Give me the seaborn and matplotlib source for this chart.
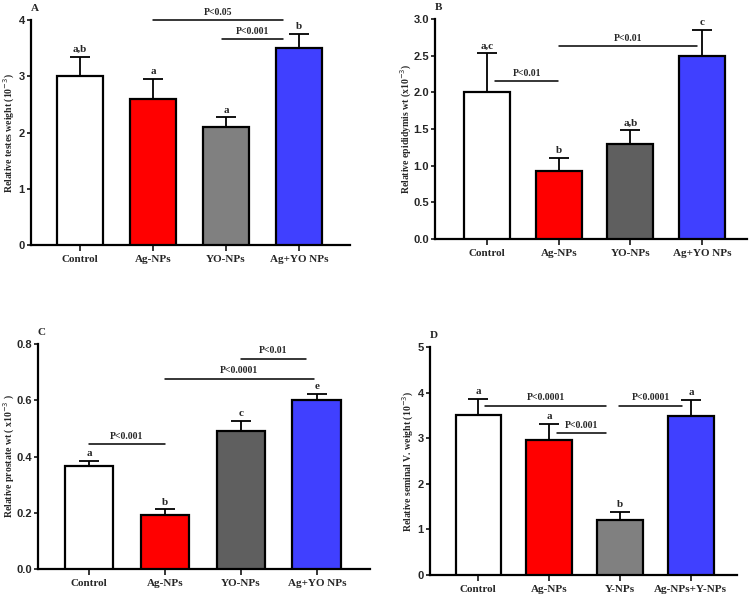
import numpy as np
import pandas as pd
import matplotlib
matplotlib.use("Agg")
import matplotlib.pyplot as plt
import seaborn as sns

# ==========================================
# Data
# ==========================================
groups_abc = ["Control", "Ag-NPs", "YO-NPs", "Ag+YO NPs"]
groups_d = ["Control", "Ag-NPs", "Y-NPs", "Ag-NPs+Y-NPs"]

testes_mean = [3.0, 2.6, 2.1, 3.5]
testes_err = [0.35, 0.35, 0.17, 0.26]
testes_letters = ["a,b", "a", "a", "b"]

epid_mean = [2.0, 0.93, 1.3, 2.5]
epid_err = [0.53, 0.18, 0.18, 0.35]
epid_letters = ["a,c", "b", "a,b", "c"]

prost_mean = [0.365, 0.192, 0.49, 0.60]
prost_err = [0.02, 0.02, 0.037, 0.022]
prost_letters = ["a", "b", "c", "e"]

semv_mean = [3.5, 2.97, 1.2, 3.48]
semv_err = [0.37, 0.35, 0.18, 0.36]
semv_letters = ["a", "a", "b", "a"]

# significance brackets: (x start, x end, y level, label)
testes_sig = [(1.0, 2.78, 4.0, "P<0.05"), (1.95, 2.78, 3.66, "P<0.001")]
epid_sig = [(0.11, 0.99, 2.15, "P<0.01"), (1.0, 2.93, 2.63, "P<0.01")]
prost_sig = [(0.0, 1.0, 0.444, "P<0.001"), (1.0, 2.96, 0.676, "P<0.0001"),
             (2.0, 2.86, 0.747, "P<0.01")]
semv_sig = [(0.1, 1.8, 3.71, "P<0.0001"), (1.11, 1.8, 3.11, "P<0.001"),
            (1.99, 2.87, 3.71, "P<0.0001")]

sns.set_style("ticks")
serif = ["Liberation Serif", "DejaVu Serif"]
sans = ["Liberation Sans", "DejaVu Sans"]

fig = plt.figure(figsize=(7.52, 5.96), dpi=100)


def panel(rect, groups, means, errs, letters, sigs, colors, ylim, yticks,
          yfmt, ylabel, tag, xlim, label_x):
    ax = fig.add_axes(rect)
    df = pd.DataFrame({"group": groups, "value": means})
    sns.barplot(data=df, x="group", y="value", hue="group", palette=colors,
                order=groups, hue_order=groups, width=0.64, edgecolor="black",
                linewidth=1.6, saturation=1, errorbar=None, legend=False,
                ax=ax, zorder=3)
    x = np.arange(len(groups))
    ax.errorbar(x, means, yerr=[np.zeros(len(errs)), errs], fmt="none",
                ecolor="black", elinewidth=1.3, capsize=7, capthick=1.3,
                zorder=2)
    for xi, m, e, lab in zip(x, means, errs, letters):
        ax.annotate(lab, (xi, m + e), xytext=(0, 2), textcoords="offset points",
                    ha="center", va="bottom", fontsize=8, fontweight="bold",
                    family=serif)
    for x0, x1, yv, lab in sigs:
        ax.plot([x0, x1], [yv, yv], color="black", lw=1.1, clip_on=False)
        ax.annotate(lab, ((x0 + x1) / 2, yv), xytext=(0, 2.5),
                    textcoords="offset points", ha="center", va="bottom",
                    fontsize=7, fontweight="bold", family=serif,
                    annotation_clip=False)
    ax.set_xlim(*xlim)
    ax.set_ylim(*ylim)
    ax.set_yticks(yticks)
    ax.set_yticklabels([yfmt.format(v) for v in yticks], fontsize=8,
                       fontweight="bold", family=sans)
    ax.set_xticks(x)
    ax.set_xticklabels(groups, fontsize=8, fontweight="bold", family=serif)
    ax.set_xlabel("")
    ax.set_ylabel(ylabel, fontsize=7, fontweight="bold", family=serif)
    ax.yaxis.set_label_coords(label_x, 0.5)
    for s in ["top", "right"]:
        ax.spines[s].set_visible(False)
    for s in ["left", "bottom"]:
        ax.spines[s].set_linewidth(1.6)
        ax.spines[s].set_color("black")
    ax.tick_params(axis="y", length=3, width=1.3, pad=1.5)
    ax.tick_params(axis="x", length=4, width=1.3, pad=3)
    ax.text(0.0, 1.03, tag, transform=ax.transAxes, fontsize=8,
            fontweight="bold", family=serif, ha="left", va="bottom")
    return ax


light_cols = ["#FFFFFF", "#FF0000", "#808080", "#4040FF"]
dark_cols = ["#FFFFFF", "#FF0000", "#5F5F5F", "#4040FF"]

panel([0.0412, 0.5889, 0.4242, 0.3775], groups_abc, testes_mean, testes_err,
      testes_letters, testes_sig, light_cols, (0, 4), [0, 1, 2, 3, 4], "{:g}",
      "Relative testes weight (10$^{-3}$)", "A", (-0.67, 3.7), -0.044)

panel([0.5785, 0.5990, 0.4149, 0.3691], groups_abc, epid_mean, epid_err,
      epid_letters, epid_sig, dark_cols, (0, 3),
      [0, 0.5, 1.0, 1.5, 2.0, 2.5, 3.0], "{:.1f}",
      "Relative epididymis wt (x10$^{-3}$)", "B", (-0.73, 3.63), -0.067)

panel([0.0505, 0.0453, 0.4415, 0.3775], groups_abc, prost_mean, prost_err,
      prost_letters, prost_sig, dark_cols, (0, 0.8),
      [0, 0.2, 0.4, 0.6, 0.8], "{:.1f}",
      "Relative prostate wt ( x10$^{-3}$ )", "C", (-0.67, 3.7), -0.063)

panel([0.5718, 0.0352, 0.4082, 0.3826], groups_d, semv_mean, semv_err,
      semv_letters, semv_sig, light_cols, (0, 5), [0, 1, 2, 3, 4, 5], "{:g}",
      "Relative seminal V. weight (10$^{-3}$)", "D", (-0.68, 3.65), -0.046)

plt.savefig("out.png", dpi=100)
